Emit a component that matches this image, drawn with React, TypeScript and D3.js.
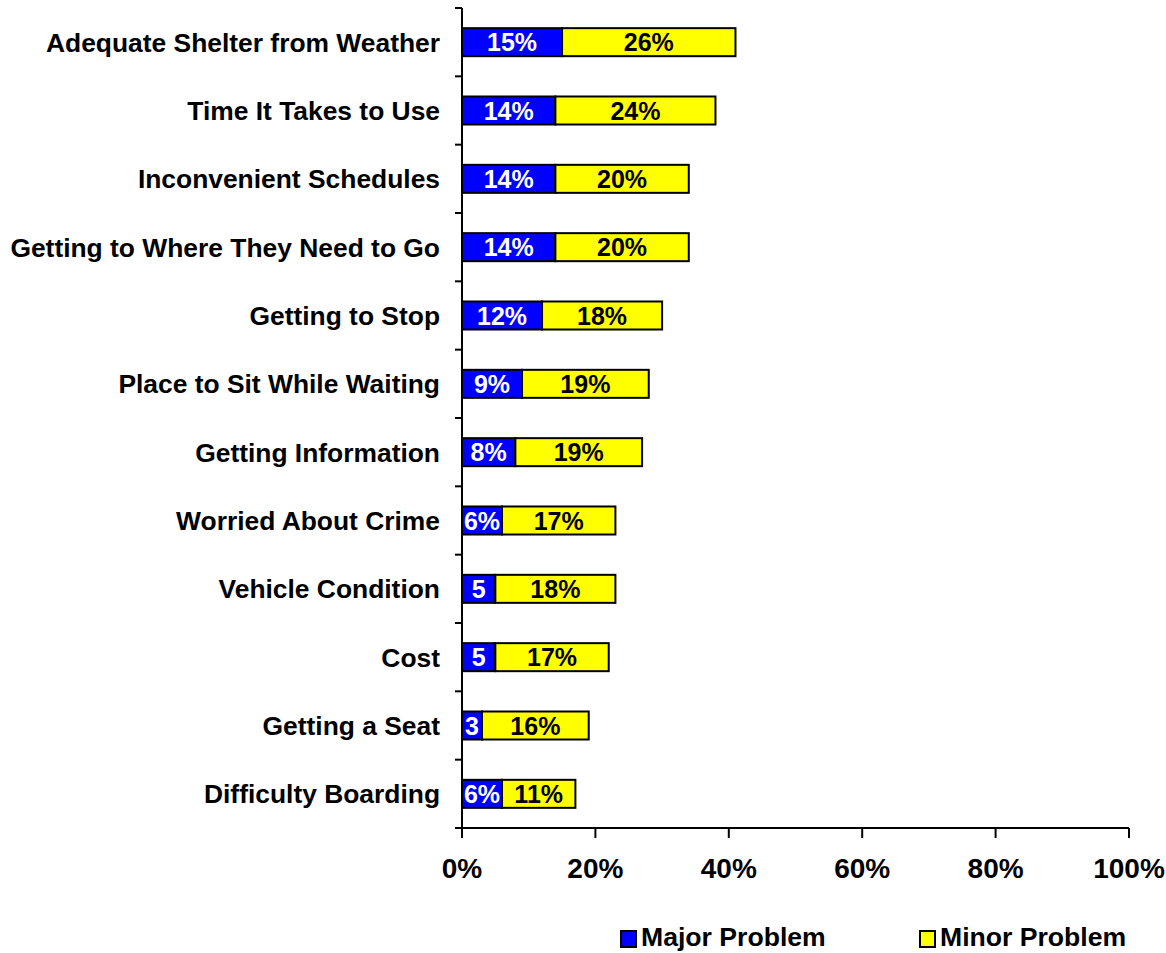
import React from 'react';
import * as d3 from 'd3';

const categories = [
  'Adequate Shelter from Weather',
  'Time It Takes to Use',
  'Inconvenient Schedules',
  'Getting to Where They Need to Go',
  'Getting to Stop',
  'Place to Sit While Waiting',
  'Getting Information',
  'Worried About Crime',
  'Vehicle Condition',
  'Cost',
  'Getting a Seat',
  'Difficulty Boarding',
];
const majorValues = [15, 14, 14, 14, 12, 9, 8, 6, 5, 5, 3, 6];
const minorValues = [26, 24, 20, 20, 18, 19, 19, 17, 18, 17, 16, 11];
const majorLabels = ['15%', '14%', '14%', '14%', '12%', '9%', '8%', '6%', '5', '5', '3', '6%'];
const minorLabels = ['26%', '24%', '20%', '20%', '18%', '19%', '19%', '17%', '18%', '17%', '16%', '11%'];
const xTicks = [0, 20, 40, 60, 80, 100];
const seriesNames = ['Major Problem', 'Minor Problem'];

const W = 1166;
const H = 953;
const FONT = '"Liberation Sans", Arial, sans-serif';

const App: React.FC = () => {
  const x = d3.scaleLinear().domain([0, 100]).range([462, 1129]);
  const y = d3.scaleBand<string>()
    .domain(categories)
    .range([8, 828])
    .paddingInner(0.59)
    .paddingOuter(0.295);
  const step = y.step();
  const bh = y.bandwidth();
  const boundaries = d3.range(categories.length + 1).map(i => 8 + i * step);

  return (
    <svg width={W} height={H} style={{ position: 'absolute', left: 0, top: 0 }} fontFamily={FONT}>
      <rect width={W} height={H} fill="#fff" />

      {/* bars */}
      {categories.map((c, i) => {
        const y0 = y(c) || 0;
        const m = majorValues[i];
        const n = minorValues[i];
        return (
          <g key={c}>
            <rect x={x(0)} y={y0} width={x(m) - x(0)} height={bh} fill="#0000ff" stroke="#000" strokeWidth={2} />
            <rect x={x(m)} y={y0} width={x(m + n) - x(m)} height={bh} fill="#ffff00" stroke="#000" strokeWidth={2} />
            <text x={(x(0) + x(m)) / 2} y={y0 + bh / 2} dy="0.36em" textAnchor="middle"
              fontSize={25} fontWeight="bold" fill="#fff">{majorLabels[i]}</text>
            <text x={(x(m) + x(m + n)) / 2} y={y0 + bh / 2} dy="0.36em" textAnchor="middle"
              fontSize={25} fontWeight="bold" fill="#000">{minorLabels[i]}</text>
            <text x={440} y={y0 + bh / 2} dy="0.36em" textAnchor="end"
              fontSize={26.4} fontWeight="bold" fill="#000">{c}</text>
          </g>
        );
      })}

      {/* y axis */}
      <line x1={x(0)} x2={x(0)} y1={8} y2={829} stroke="#000" strokeWidth={2} />
      {boundaries.map((b, i) => (
        <line key={i} x1={455} x2={x(0)} y1={b} y2={b} stroke="#000" strokeWidth={2} />
      ))}

      {/* x axis */}
      <line x1={x(0)} x2={x(100)} y1={828} y2={828} stroke="#000" strokeWidth={2} />
      {xTicks.map(t => (
        <g key={t}>
          <line x1={x(t)} x2={x(t)} y1={828} y2={838} stroke="#000" strokeWidth={2} />
          <text x={x(t)} y={868} dy="0.36em" textAnchor="middle" fontSize={28}
            fontWeight="bold" fill="#000">{t}%</text>
        </g>
      ))}

      {/* legend */}
      {seriesNames.map((s, i) => {
        const lx = i === 0 ? 621 : 920;
        return (
          <g key={s}>
            <rect x={lx} y={931} width={15} height={16} fill={i === 0 ? '#0000ff' : '#ffff00'}
              stroke="#000" strokeWidth={2} />
            <text x={lx + 20} y={946} fontSize={26.6} fontWeight="bold" fill="#000">{s}</text>
          </g>
        );
      })}
    </svg>
  );
};

export default App;
